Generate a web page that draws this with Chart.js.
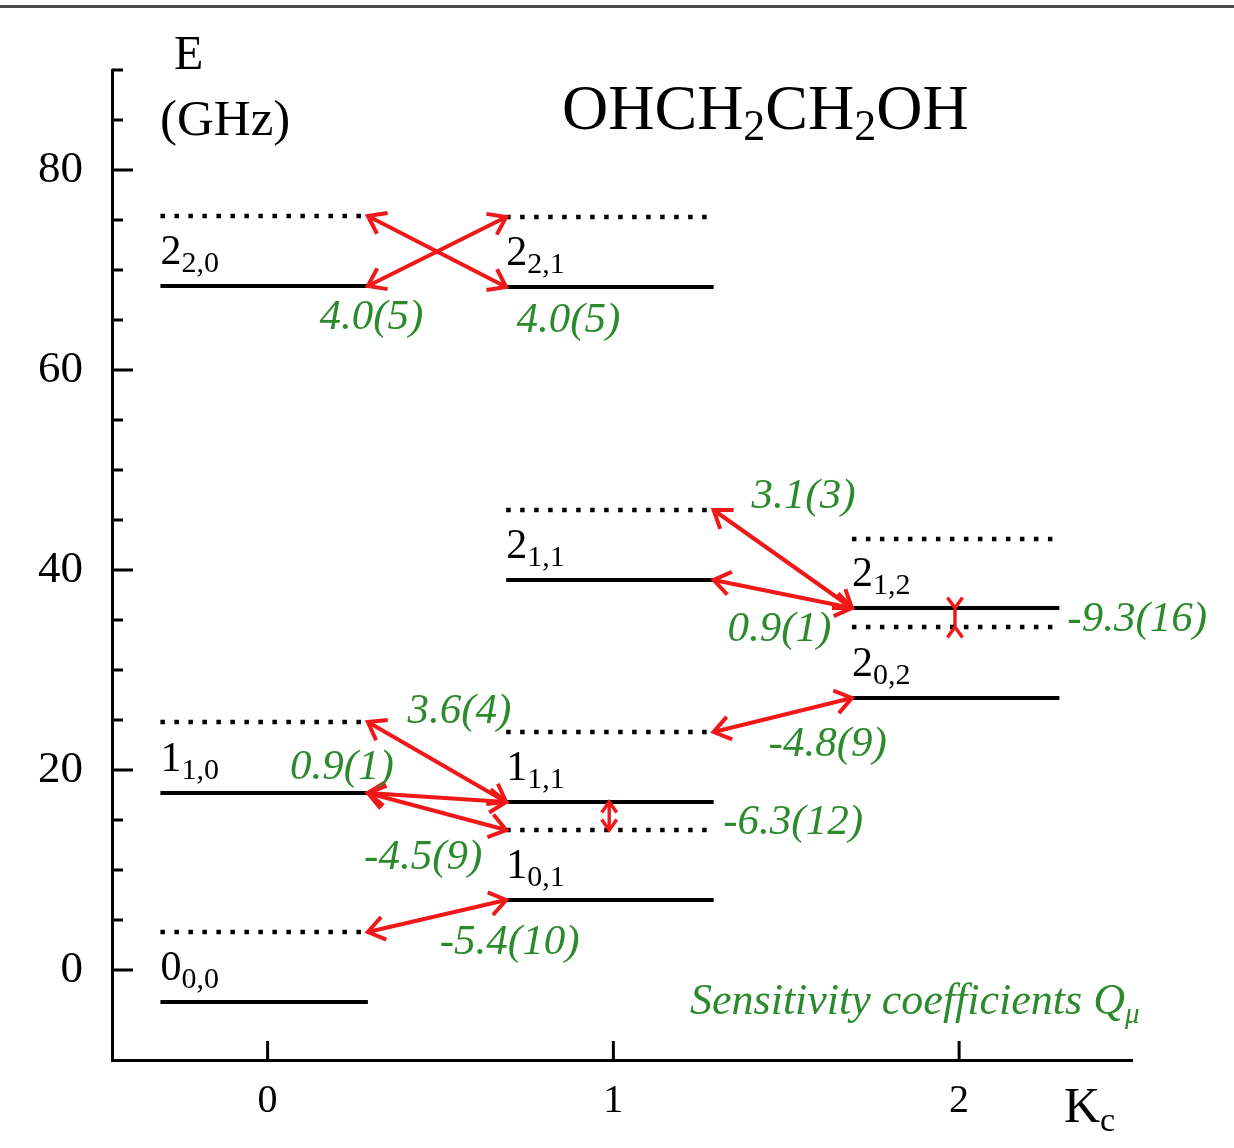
<!DOCTYPE html>
<html>
<head>
<meta charset="utf-8">
<script src="https://cdn.jsdelivr.net/npm/chart.js@4.4.0/dist/chart.umd.min.js"></script>
<style>
  html, body { margin: 0; padding: 0; background: #fff; }
  #wrap { width: 1234px; height: 1148px; }
</style>
</head>
<body>
<div id="wrap"><canvas id="c" width="1234" height="1148"></canvas></div>
<script>
const SERIF = '"Liberation Serif", "DejaVu Serif", serif';
const GREEN = '#2b8a2b';
const RED = '#f01818';

// solid levels: K_c column, energy (GHz), label J and Ka,Kc
const levelK = [0, 0, 0, 1, 1, 1, 1, 2, 2];
const levelE = [-3.2, 17.7, 68.4, 7.0, 16.8, 39.0, 68.3, 27.2, 36.2];
const levelJ = ['0', '1', '2', '1', '1', '2', '2', '2', '2'];
const levelSub = ['0,0', '1,0', '2,0', '0,1', '1,1', '1,1', '2,1', '0,2', '1,2'];

// dotted (shifted) levels
const shiftK = [0, 0, 0, 1, 1, 1, 1, 2, 2];
const shiftE = [3.8, 24.8, 75.4, 14.0, 23.8, 46.0, 75.3, 34.3, 43.1];

// transitions: right end of A <-> left end of B  (s = solid, d = dotted)
const arrowA = ['s2', 'd2', 'd5', 's5', 'd1', 's1', 's1', 'd0', 'd4'];
const arrowB = ['d6', 's6', 's8', 's8', 's4', 's4', 'd3', 's3', 's7'];
// vertical transitions inside one column (second one drawn with heads outside the gap)
const vArrowA = ['s4', 's8'];
const vArrowB = ['d3', 'd7'];
const vInward = [false, true];

// sensitivity coefficients Q_mu and their anchor (data units, text centre)
const qText = ['4.0(5)', '4.0(5)', '3.1(3)', '0.9(1)', '-9.3(16)', '-4.8(9)',
               '3.6(4)', '0.9(1)', '-6.3(12)', '-4.5(9)', '-5.4(10)'];
const qX = [0.30, 0.87, 1.55, 1.48, 2.515, 1.62, 0.555, 0.215, 1.52, 0.45, 0.70];
const qY = [65.2, 64.9, 47.3, 34.0, 35.0, 22.5, 25.8, 20.2, 14.7, 11.2, 2.7];

const xTicks = [0, 1, 2];
const yTicks = [0, 20, 40, 60, 80];
const yMinor = [5, 10, 15, 25, 30, 35, 45, 50, 55, 65, 70, 75, 85, 90];

const LEFT = -0.31, RIGHT = 0.29;

function lvl(ref) {
  const i = Number(ref.slice(1));
  return ref[0] === 's' ? { k: levelK[i], e: levelE[i] } : { k: shiftK[i], e: shiftE[i] };
}

const datasets = [];
levelK.forEach((k, i) => {
  datasets.push({
    data: [{ x: k + LEFT, y: levelE[i] }, { x: k + RIGHT, y: levelE[i] }],
    borderColor: '#000', borderWidth: 3.8,
  });
});
shiftK.forEach((k, i) => {
  datasets.push({
    data: [{ x: k + LEFT, y: shiftE[i] }, { x: k + RIGHT, y: shiftE[i] }],
    borderColor: '#000', borderWidth: 4.5, borderDash: [4.5, 9.5],
  });
});
arrowA.forEach((ref, i) => {
  const a = lvl(ref), b = lvl(arrowB[i]);
  datasets.push({
    data: [{ x: a.k + RIGHT, y: a.e }, { x: b.k + LEFT, y: b.e }],
    borderColor: RED, borderWidth: 4, arrow: 20,
  });
});
vArrowA.forEach((ref, i) => {
  const a = lvl(ref), b = lvl(vArrowB[i]);
  datasets.push({
    data: [{ x: a.k - 0.012, y: a.e }, { x: a.k - 0.012, y: b.e }],
    borderColor: RED, borderWidth: 3.4, arrow: 13, inward: vInward[i],
  });
});
datasets.forEach(d => {
  d.showLine = true;
  d.pointRadius = 0;
  d.fill = false;
  d.borderCapStyle = 'butt';
});

function drawParts(ctx, parts, x, y) {
  // parts: [text, font, dy]
  parts.forEach(([t, font, dy]) => {
    ctx.font = font;
    ctx.fillText(t, x, y + dy);
    x += ctx.measureText(t).width;
  });
  return x;
}

function arrowHead(ctx, tip, from, len, inward) {
  const ang = Math.atan2(tip.y - from.y, tip.x - from.x);
  const a = 0.62;
  const s = inward ? -1 : 1;
  ctx.beginPath();
  ctx.moveTo(tip.x - s * len * Math.cos(ang - a), tip.y - s * len * Math.sin(ang - a));
  ctx.lineTo(tip.x, tip.y);
  ctx.lineTo(tip.x - s * len * Math.cos(ang + a), tip.y - s * len * Math.sin(ang + a));
  ctx.stroke();
}

const diagramPlugin = {
  id: 'diagram',
  beforeDraw(chart) {
    const ctx = chart.ctx;
    ctx.save();
    ctx.fillStyle = '#fff';
    ctx.fillRect(0, 0, chart.width, chart.height);
    ctx.fillStyle = '#4a4a4a';
    ctx.fillRect(0, 5, chart.width, 3);
    ctx.restore();
  },
  afterDatasetsDraw(chart) {
    const ctx = chart.ctx;
    ctx.save();
    ctx.strokeStyle = RED;
    ctx.lineJoin = 'miter';
    chart.data.datasets.forEach((d, i) => {
      if (!d.arrow) return;
      ctx.lineWidth = d.borderWidth;
      const pts = chart.getDatasetMeta(i).data;
      arrowHead(ctx, pts[0], pts[1], d.arrow, d.inward);
      arrowHead(ctx, pts[1], pts[0], d.arrow, d.inward);
    });
    ctx.restore();
  },
  afterDraw(chart) {
    const ctx = chart.ctx;
    const xs = chart.scales.x, ys = chart.scales.y;
    const area = chart.chartArea;
    ctx.save();
    ctx.strokeStyle = '#000';
    ctx.fillStyle = '#000';
    ctx.lineWidth = 3;

    // inward ticks
    yTicks.forEach(v => {
      const p = ys.getPixelForValue(v);
      ctx.beginPath(); ctx.moveTo(area.left, p); ctx.lineTo(area.left + 21, p); ctx.stroke();
    });
    yMinor.forEach(v => {
      const p = ys.getPixelForValue(v);
      ctx.beginPath(); ctx.moveTo(area.left, p); ctx.lineTo(area.left + 11, p); ctx.stroke();
    });
    xTicks.forEach(v => {
      const p = xs.getPixelForValue(v);
      ctx.beginPath(); ctx.moveTo(p, area.bottom); ctx.lineTo(p, area.bottom - 19); ctx.stroke();
    });

    // tick labels
    ctx.textBaseline = 'middle';
    ctx.textAlign = 'right';
    ctx.font = '45px ' + SERIF;
    yTicks.forEach(v => ctx.fillText(String(v), 83, ys.getPixelForValue(v)));
    ctx.textAlign = 'center';
    ctx.font = '40px ' + SERIF;
    xTicks.forEach(v => ctx.fillText(String(v), xs.getPixelForValue(v), 1101));

    // axis titles
    ctx.textBaseline = 'alphabetic';
    ctx.textAlign = 'left';
    ctx.font = '48px ' + SERIF;
    ctx.fillText('E', 174, 69);
    ctx.font = '51px ' + SERIF;
    ctx.fillText('(GHz)', 160, 135);
    drawParts(ctx, [['K', '50px ' + SERIF, 0], ['c', '34px ' + SERIF, 9]], 1064, 1122);

    // title
    drawParts(ctx, [
      ['OHCH', '64px ' + SERIF, 0], ['2', '44px ' + SERIF, 11],
      ['CH', '64px ' + SERIF, 0], ['2', '44px ' + SERIF, 11],
      ['OH', '64px ' + SERIF, 0],
    ], 562, 129);

    // level labels
    levelK.forEach((k, i) => {
      const x = xs.getPixelForValue(k + LEFT);
      const y = ys.getPixelForValue(levelE[i]) - 22;
      drawParts(ctx, [[levelJ[i], '42px ' + SERIF, 0], [levelSub[i], '30px ' + SERIF, 8]], x, y);
    });

    // sensitivity coefficients
    ctx.fillStyle = GREEN;
    ctx.textAlign = 'center';
    ctx.textBaseline = 'middle';
    ctx.font = 'italic 43px ' + SERIF;
    qText.forEach((t, i) => ctx.fillText(t, xs.getPixelForValue(qX[i]), ys.getPixelForValue(qY[i])));

    ctx.textAlign = 'left';
    ctx.textBaseline = 'alphabetic';
    drawParts(ctx, [
      ['Sensitivity coefficients Q', 'italic 44px ' + SERIF, 0],
      ['\u03bc', 'italic 29px ' + SERIF, 9],
    ], 690, 1014);
    ctx.restore();
  }
};

new Chart(document.getElementById('c'), {
  type: 'scatter',
  data: { datasets },
  options: {
    responsive: false,
    animation: false,
    layout: { padding: { left: 112, top: 70, right: 102, bottom: 88 } },
    plugins: { legend: { display: false }, tooltip: { enabled: false } },
    scales: {
      x: {
        type: 'linear', min: -0.45, max: 2.5,
        ticks: { display: false },
        grid: { display: false, drawTicks: false },
        border: { display: true, color: '#000', width: 3 },
      },
      y: {
        type: 'linear', min: -9, max: 90,
        ticks: { display: false },
        grid: { display: false, drawTicks: false },
        border: { display: true, color: '#000', width: 3 },
      },
    },
  },
  plugins: [diagramPlugin],
});
</script>
</body>
</html>
